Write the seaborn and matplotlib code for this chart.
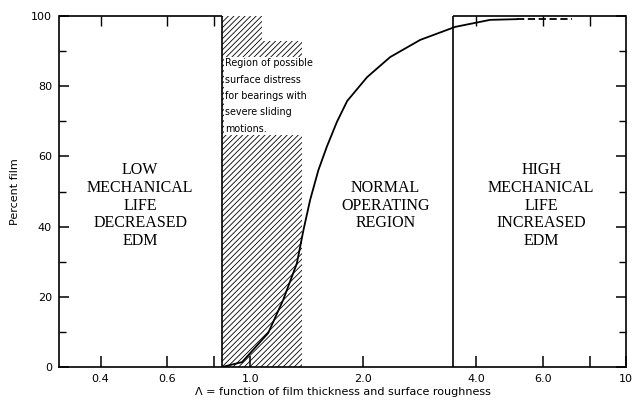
import numpy as np
import matplotlib
matplotlib.use("Agg")
import matplotlib.pyplot as plt
from matplotlib.ticker import FixedLocator, MultipleLocator, NullLocator
import seaborn as sns
import pandas as pd

# curve: percent film vs lambda
lam = [0.842, 0.952, 1.117, 1.224, 1.331, 1.386, 1.444, 1.519, 1.600,
       1.701, 1.812, 2.048, 2.358, 2.835, 3.512, 4.35, 5.13]
pct_film = [0, 1.4, 9.7, 19.1, 29.5, 39.0, 47.6, 56.1, 62.8,
            69.8, 75.8, 82.6, 88.3, 93.2, 96.9, 98.9, 99.1]
# dashed continuation near the top
lam_dash = [5.13, 7.19]
pct_dash = [99.1, 99.1]

# hatched "surface distress" region (stepped top)
hatch_x = [0.842, 1.076, 1.375]
hatch_top = [100, 93, 93]

# region boundaries
low_end = 0.842
high_start = 3.47

region_labels = ["LOW\nMECHANICAL\nLIFE\nDECREASED\nEDM",
                 "NORMAL\nOPERATING\nREGION",
                 "HIGH\nMECHANICAL\nLIFE\nINCREASED\nEDM"]
region_x = [0.51, 2.29, 5.95]
region_y = [46, 46, 46]

note = "Region of possible\nsurface distress\nfor bearings with\nsevere sliding\nmotions."

x_ticks = [0.4, 0.6, 0.8, 1.0, 2.0, 4.0, 6.0, 8.0, 10]
x_labels = ["0.4", "0.6", "", "1.0", "2.0", "4.0", "6.0", "", "10"]
top_ticks = [0.4, 0.6, 0.8, 4.0, 6.0, 8.0]
xlim = (0.31, 10)

sns.set_style("ticks")
plt.rcParams["font.family"] = ["DejaVu Sans"]
plt.rcParams["hatch.linewidth"] = 0.6
for k in ["text.color", "axes.labelcolor", "xtick.color", "ytick.color"]:
    plt.rcParams[k] = "black"

fig = plt.figure(figsize=(6.33, 4.03), dpi=100)
ax = fig.add_axes([59 / 633, 36 / 403, 567 / 633, 351 / 403])

df = pd.DataFrame({"lam": lam, "pct": pct_film})
sns.lineplot(data=df, x="lam", y="pct", color="black", linewidth=1.3, ax=ax)
ax.plot(lam_dash, pct_dash, color="black", linewidth=1.3, linestyle=(0, (4, 2)))

ax.fill_between(hatch_x, 0, hatch_top, step="post", facecolor="white",
                edgecolor="black", hatch="//////", linewidth=0, zorder=0)

ax.vlines([low_end, high_start], 0, 100, color="black", linewidth=1.2)
ax.hlines(100, xlim[0], low_end, color="black", linewidth=1.2, clip_on=False)
ax.hlines(100, high_start, xlim[1], color="black", linewidth=1.2, clip_on=False)

for lbl, x, y in zip(region_labels, region_x, region_y):
    ax.text(x, y, lbl, ha="center", va="center", family="Liberation Serif",
            fontsize=11.5, linespacing=1.15)

ax.text(0.858, 88, note, ha="left", va="top", fontsize=6.9, linespacing=1.8,
        bbox=dict(facecolor="white", edgecolor="none", pad=1))

ax.set_xscale("log")
ax.set_xlim(*xlim)
ax.set_ylim(0, 100)
ax.xaxis.set_major_locator(FixedLocator(x_ticks))
ax.xaxis.set_minor_locator(NullLocator())
ax.set_xticklabels(x_labels)
ax.set_yticks([0, 20, 40, 60, 80, 100])
ax.yaxis.set_minor_locator(MultipleLocator(10))

ax.tick_params(axis="x", which="major", direction="in", length=8, width=1.1,
               labelsize=8, pad=5)
ax.tick_params(axis="y", which="major", direction="in", length=7, width=1.1,
               labelsize=8, pad=5, right=True)
ax.tick_params(axis="y", which="minor", direction="in", length=5, width=1.0,
               right=True)

for side in ["left", "bottom", "right"]:
    ax.spines[side].set_linewidth(1.2)
    ax.spines[side].set_color("black")
ax.spines["top"].set_visible(False)

ax.set_xlabel("\u039b = function of film thickness and surface roughness",
              fontsize=8, labelpad=2)
ax.set_ylabel("Percent film", fontsize=8, labelpad=8)

# ticks along the top frame pieces
ax2 = ax.twiny()
ax2.set_xscale("log")
ax2.set_xlim(*xlim)
ax2.xaxis.set_major_locator(FixedLocator(top_ticks))
ax2.xaxis.set_minor_locator(NullLocator())
ax2.tick_params(axis="x", direction="in", length=7, width=1.0, labeltop=False)
for s in ax2.spines.values():
    s.set_visible(False)

fig.savefig("out.png", dpi=100)
